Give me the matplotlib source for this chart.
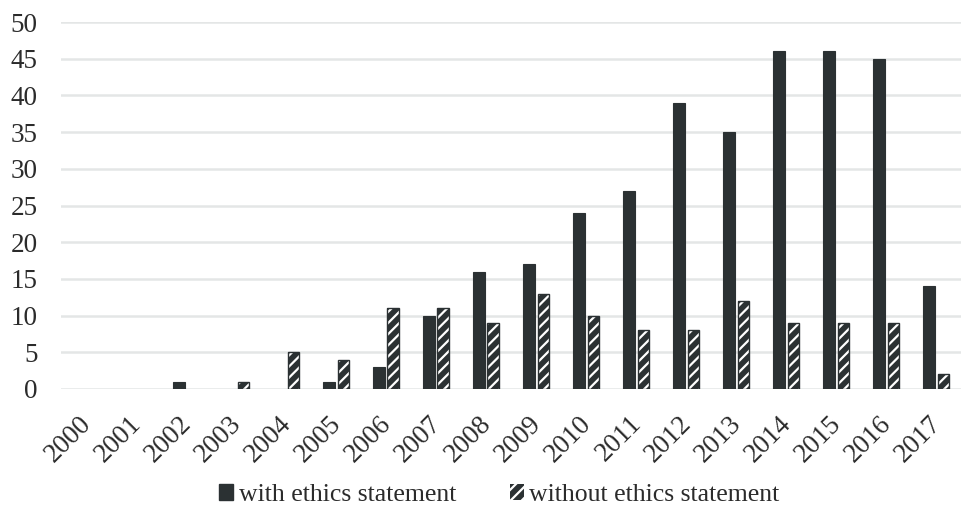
import matplotlib
matplotlib.use("Agg")
import matplotlib.pyplot as plt
import matplotlib.transforms as mtransforms
import numpy as np
from matplotlib.patches import Patch

years = [str(y) for y in range(2000, 2018)]
with_ethics = [0, 0, 1, 0, 0, 1, 3, 10, 16, 17, 24, 27, 39, 35, 46, 46, 45, 14]
without_ethics = [0, 0, 0, 1, 5, 4, 11, 11, 9, 13, 10, 8, 8, 12, 9, 9, 9, 2]

plt.rcParams['font.family'] = ['Liberation Serif', 'DejaVu Serif']
plt.rcParams['hatch.linewidth'] = 1.6

dark = '#2b3133'
fig = plt.figure(figsize=(9.64, 5.19), dpi=100)
ax = fig.add_axes([61 / 964, 1 - 389 / 519, 900 / 964, 367 / 519])

x = np.arange(len(years))
w = 0.23
off = 0.145
lw_with = [0.8 if v > 0 else 0 for v in with_ethics]
lw_without = [1.0 if v > 0 else 0 for v in without_ethics]
ax.bar(x - off, with_ethics, w, color=dark, edgecolor=dark, linewidth=lw_with, zorder=3)
ax.bar(x + off, without_ethics, w, color=dark, edgecolor='white', hatch='///', linewidth=0, zorder=3)
ax.bar(x + off, without_ethics, w, facecolor='none', edgecolor=dark, linewidth=lw_without, zorder=4)

ax.set_ylim(0, 50)
ax.set_xlim(-0.5, len(years) - 0.5)
ax.set_yticks(range(0, 51, 5))
ax.yaxis.grid(True, color='#e4e6e6', linewidth=1.8, zorder=0)
ax.set_axisbelow(True)
for s in ax.spines.values():
    s.set_visible(False)
ax.tick_params(axis='both', length=0, colors='#2b2b2b')
ax.tick_params(axis='y', pad=17, labelsize=19.5)
ax.set_xticks(x)
ax.set_xticklabels(years, rotation=45, ha='right', rotation_mode='anchor')
ax.tick_params(axis='x', pad=16, labelsize=19.5)
shift = mtransforms.ScaledTranslation(-7 / 100, 0, fig.dpi_scale_trans)
for lab in ax.get_xticklabels():
    lab.set_transform(lab.get_transform() + shift)

handles = [Patch(facecolor=dark, edgecolor=dark),
           Patch(facecolor=dark, edgecolor='white', hatch='///', linewidth=0)]
leg = fig.legend(handles, ['with ethics statement', 'without ethics statement'],
                 loc='lower center', bbox_to_anchor=(0.518, -0.02), ncol=2, frameon=False,
                 fontsize=18.5, handlelength=0.55, handleheight=0.55, handletextpad=0.2,
                 columnspacing=2.1, labelcolor='#2b2b2b')

fig.savefig('out.png', dpi=100)
